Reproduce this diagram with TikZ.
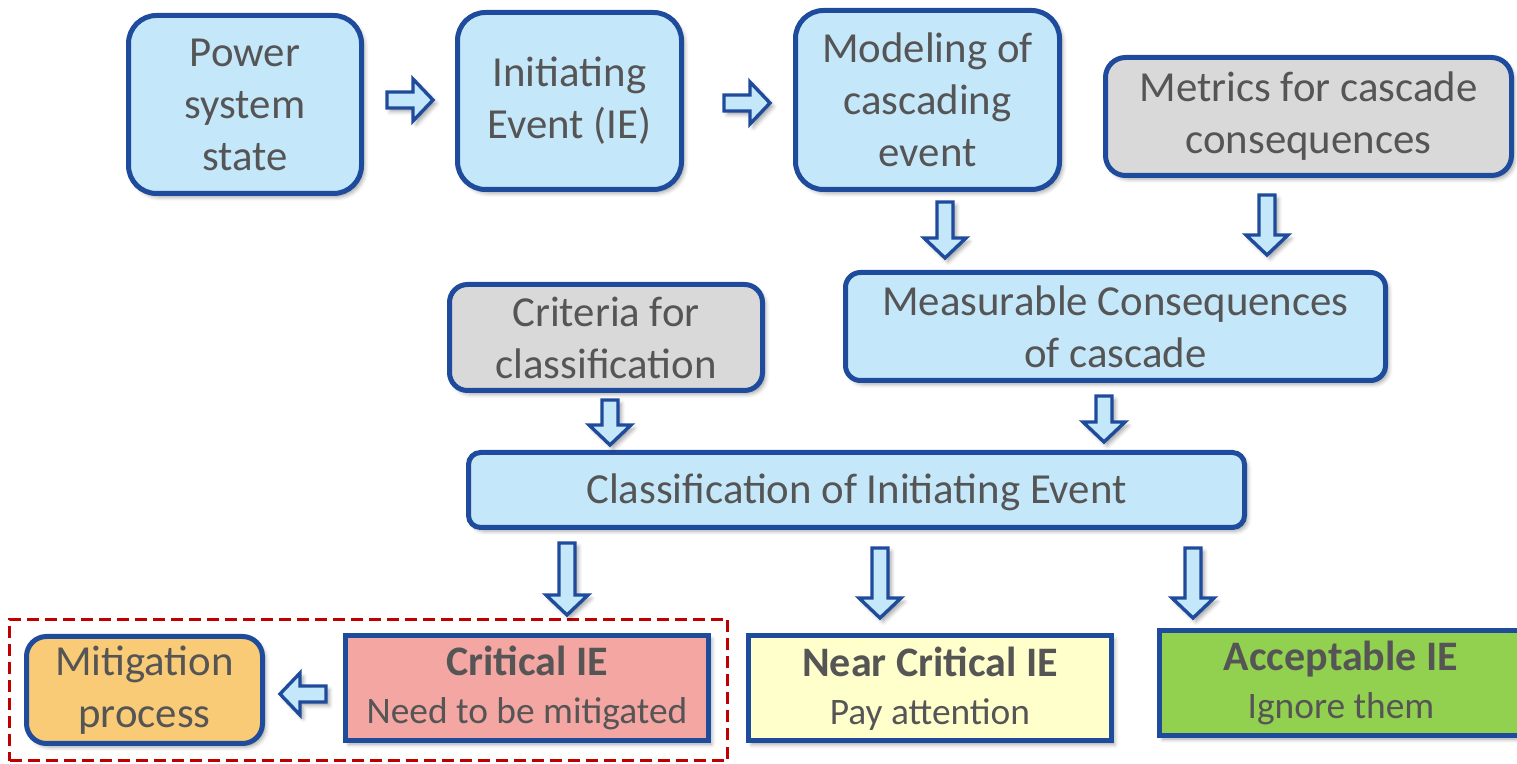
\documentclass[tikz,border=0pt]{standalone}
\usepackage{fontspec}
\setmainfont{Carlito}
\usetikzlibrary{shadows.blur}

\definecolor{boxblue}{RGB}{197,231,250}
\definecolor{edgeblue}{RGB}{30,75,155}
\definecolor{boxgrey}{RGB}{217,217,217}
\definecolor{txtgrey}{RGB}{85,85,85}
\definecolor{critred}{RGB}{244,166,162}
\definecolor{nearyellow}{RGB}{255,255,204}
\definecolor{okgreen}{RGB}{146,208,80}
\definecolor{mitorange}{RGB}{249,203,118}
\definecolor{dashred}{RGB}{192,0,0}

\tikzset{
  x=0.5pt, y=-0.5pt,
  softshadow/.style={blur shadow={shadow xshift=1.6pt, shadow yshift=-1.8pt,
      shadow blur radius=2pt, shadow opacity=35}},
  stagebox/.style={draw=edgeblue, line width=2.5pt, fill=boxblue, softshadow,
      text=txtgrey, align=center, inner sep=0pt,
      font=\fontsize{21.4}{26}\selectfont,
      execute at begin node={\rule{0pt}{17pt}}},
  inputbox/.style={stagebox, fill=boxgrey},
  classbox/.style={stagebox, minimum width=181.5pt, minimum height=52.5pt,
      font=\fontsize{18.7}{24}\selectfont},
  arrowline/.style={draw=edgeblue, line width=1.7pt, fill=boxblue,
      line join=miter, softshadow},
  pics/blockarrow/.style={code={
    \path[arrowline] (-8,0) -- (8,0) -- (8,#1-20) -- (21,#1-20) -- (0,#1)
      -- (-21,#1-20) -- (-8,#1-20) -- cycle;
  }},
}

\begin{document}
\begin{tikzpicture}
\useasboundingbox (0,0) rectangle (1517,764);

% processing stages
\node[stagebox, rounded corners=14pt, minimum width=116.5pt, minimum height=89pt]
  (state) at (245,104.5) {Power\\system\\state};
\node[stagebox, rounded corners=14pt, minimum width=112pt, minimum height=88.5pt]
  (ie) at (569.5,101) {Initiating\\Event (IE)};
\node[stagebox, rounded corners=14pt, minimum width=132pt, minimum height=89.5pt]
  (model) at (927.5,100) {Modeling of\\cascading\\event};
\node[inputbox, rounded corners=10pt, minimum width=203pt, minimum height=59pt]
  (metrics) at (1308.5,116.5) {Metrics for cascade\\consequences};
\node[inputbox, rounded corners=9pt, minimum width=156.5pt, minimum height=53pt]
  (criteria) at (606,337.5) {Criteria for\\classification};
\node[stagebox, rounded corners=7.5pt, minimum width=270pt, minimum height=54pt]
  (conseq) at (1115.5,326.5) {Measurable Consequences\\of cascade};
\node[stagebox, rounded corners=6pt, minimum width=388pt, minimum height=37.5pt]
  (classify) at (856.5,490) {Classification of Initiating Event};

% outcome classes
\node[classbox, fill=critred] (critical) at (527,688)
  {{\bfseries\fontsize{21}{24}\selectfont Critical IE}\\Need to be mitigated};
\node[classbox, fill=nearyellow] (nearcrit) at (930,688.5)
  {{\bfseries\fontsize{21}{24}\selectfont Near Critical IE}\\Pay attention};
\node[classbox, fill=okgreen] (accept) at (1341,683)
  {{\bfseries\fontsize{21}{24}\selectfont Acceptable IE}\\Ignore them};
\node[stagebox, fill=mitorange, rounded corners=10pt, minimum width=118pt,
  minimum height=53.5pt] (mitig) at (144.5,690) {Mitigation\\process};

% group of critical events and their mitigation
\node[draw=dashred, line width=1.5pt, dash pattern=on 6pt off 3pt,
  minimum width=359pt, minimum height=70.5pt, inner sep=0pt]
  (critgroup) at (368.5,690) {};

% block arrows
\pic[rotate=90] at (387,100) {blockarrow=46};
\pic[rotate=90] at (724,103) {blockarrow=46};
\pic at (945,202) {blockarrow=56};
\pic at (1267,195) {blockarrow=60};
\pic at (610,400) {blockarrow=45};
\pic at (1104,396) {blockarrow=46};
\pic at (567,543) {blockarrow=72};
\pic at (880,548) {blockarrow=70};
\pic at (1193,548) {blockarrow=70};
\pic[rotate=-90] at (326,694) {blockarrow=46};
\end{tikzpicture}
\end{document}
